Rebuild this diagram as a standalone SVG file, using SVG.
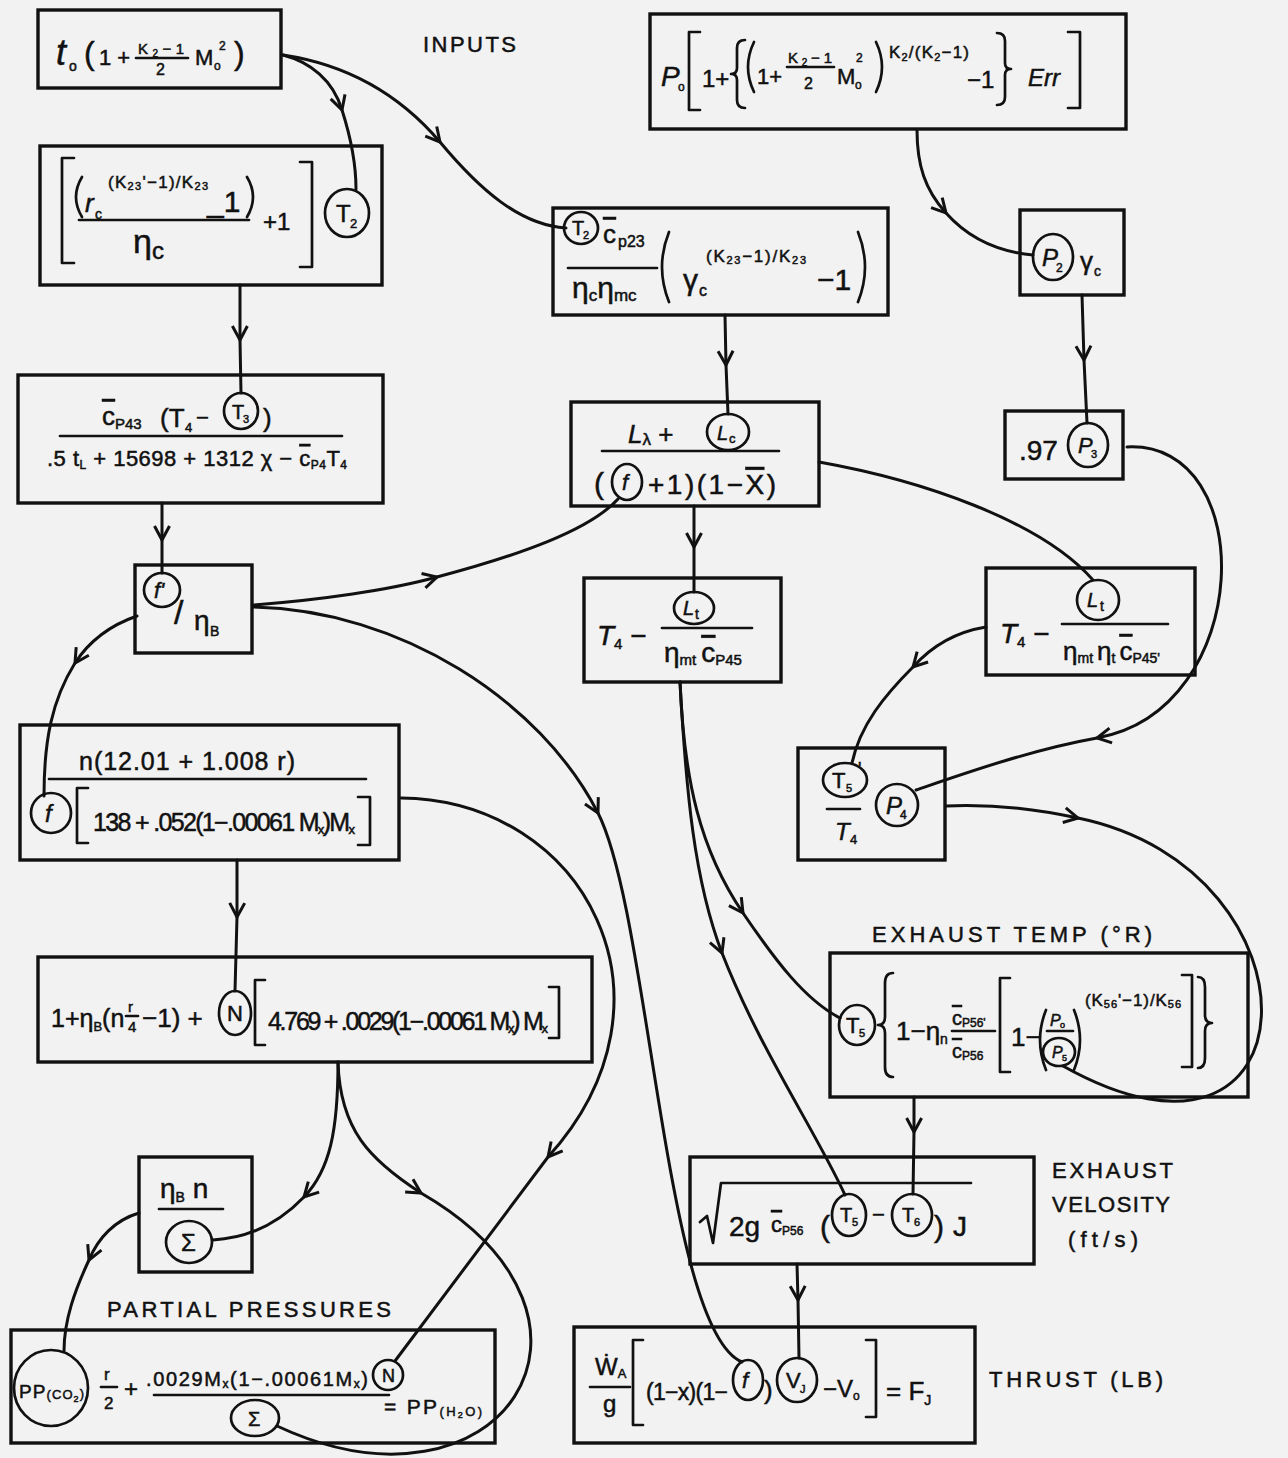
<svg xmlns="http://www.w3.org/2000/svg" width="1288" height="1458" viewBox="0 0 1288 1458">
<style>
.bx{fill:none;stroke:#111;stroke-width:3.4}
.cr{fill:none;stroke:#111;stroke-width:2.7}
.ln{fill:none;stroke:#111;stroke-width:2.7;stroke-linecap:round;stroke-linejoin:round}
.cn{fill:none;stroke:#111;stroke-width:3;marker-mid:url(#v);stroke-linecap:round}
.cn0{fill:none;stroke:#111;stroke-width:3;stroke-linecap:round}
text{font-family:"Liberation Sans","DejaVu Sans",sans-serif;fill:#111;stroke:#111;stroke-width:0.5}
.i{font-style:italic}
.ov{text-decoration:overline}
.lb{font-size:22px}
</style>
<defs>
<marker id="v" viewBox="-16 -10 18 20" markerWidth="18" markerHeight="20" refX="0" refY="0" orient="auto" markerUnits="userSpaceOnUse" overflow="visible">
<path d="M-14,-7.5 L0,0 L-14,7.5" fill="none" stroke="#111" stroke-width="3"/>
</marker>
</defs>
<rect x="0" y="0" width="1288" height="1458" fill="#f2f2f2"/>

<g id="connectors">
<path class="cn" d="M283,55 C310,62 333,80 342,110 C350,135 356,160 356,189"/>
<path class="cn" d="M283,55 C350,65 400,95 440,142 C480,190 520,225 566,228"/>
<path class="cn" d="M917,130 C917,165 925,190 946,213 C970,240 1000,252 1033,255"/>
<path class="cn" d="M240,285 L240,340 L241,393"/>
<path class="cn" d="M725,315 L726,365 L728,414"/>
<path class="cn" d="M1082,295 L1084,360 L1087,423"/>
<path class="cn" d="M162,503 L162,540 L162,573"/>
<path class="cn" d="M694,506 L694,547 L694,592"/>
<path class="cn" d="M253,605 C320,600 390,590 437,577 C520,555 590,530 618,499"/>
<path class="cn0" d="M819,462 C920,480 1040,520 1093,580"/>
<path class="cn" d="M1127,447 C1260,440 1255,710 1097,738 C1030,750 960,775 916,790"/>
<path class="cn" d="M986,627 C955,632 930,648 913,667 C885,695 860,725 852,763"/>
<path class="cn" d="M137,616 C108,626 88,643 75,663 C52,700 44,740 44,796"/>
<path class="cn" d="M253,607 C400,610 540,700 598,813 C650,915 665,1330 742,1362"/>
<path class="cn" d="M401,798 C585,800 690,1000 548,1157 L395,1361"/>
<path class="cn" d="M237,860 L237,917 L235,991"/>
<path class="cn" d="M338,1062 C338,1130 330,1170 304,1197 C280,1222 250,1238 213,1240"/>
<path class="cn" d="M338,1062 C340,1130 370,1160 421,1193 C640,1320 500,1530 277,1426"/>
<path class="cn" d="M139,1213 C115,1220 98,1238 89,1260 C75,1290 64,1320 64,1351"/>
<path class="cn" d="M680,682 C684,780 700,850 743,913 C775,960 805,1000 840,1018"/>
<path class="cn" d="M680,682 C686,790 694,880 722,953 C760,1050 815,1130 845,1195"/>
<path class="cn" d="M946,806 C1000,804 1040,810 1078,818 C1330,870 1320,1210 1063,1066"/>
<path class="cn" d="M914,1097 L914,1132 L913,1194"/>
<path class="cn" d="M797,1264 L798,1300 L799,1358"/>
</g>

<g id="n-t2in">
<rect class="bx" x="38" y="10" width="243" height="78"/>
<text class="i" x="56" y="65" font-size="36">t</text>
<text x="69" y="71" font-size="14">o</text>
<text x="84" y="64" font-size="32">(</text>
<text x="99" y="65" font-size="22">1 +</text>
<text x="138" y="54" font-size="15" textLength="46">K<tspan font-size="10" dy="3">2</tspan><tspan dy="-3">−1</tspan></text>
<line class="ln" x1="136" y1="58" x2="188" y2="58"/>
<text x="156" y="75" font-size="16">2</text>
<text x="195" y="65" font-size="22">M</text>
<text x="214" y="70" font-size="12">o</text>
<text x="219" y="50" font-size="12">2</text>
<text x="234" y="64" font-size="32">)</text>
</g>

<g id="lbl-inputs"><text class="lb" x="423" y="52" font-size="24" textLength="93">INPUTS</text></g>

<g id="n-p0">
<rect class="bx" x="650" y="14" width="476" height="115"/>
<text class="i" x="661" y="86" font-size="28">P</text>
<text x="678" y="91" font-size="12">o</text>
<path class="ln" d="M700,32 H689 V110 H700"/>
<text x="702" y="87" font-size="24">1+</text>
<path class="ln" d="M745,40 Q737,40 737,48 V68 Q737,74 731,74 Q737,74 737,80 V100 Q737,108 745,108"/>
<path class="ln" d="M754,42 Q742,67 754,92"/>
<text x="757" y="84" font-size="22">1+</text>
<text x="788" y="63" font-size="15" textLength="44">K<tspan font-size="10" dy="3">2</tspan><tspan dy="-3">−1</tspan></text>
<line class="ln" x1="787" y1="67" x2="834" y2="67"/>
<text x="804" y="89" font-size="16">2</text>
<text x="837" y="84" font-size="22">M</text>
<text x="855" y="89" font-size="12">o</text>
<text x="856" y="62" font-size="12">2</text>
<path class="ln" d="M876,42 Q888,67 876,92"/>
<text x="889" y="58" font-size="17" textLength="80">K<tspan font-size="11" dy="3">2</tspan><tspan dy="-3">/(K</tspan><tspan font-size="11" dy="3">2</tspan><tspan dy="-3">−1)</tspan></text>
<text x="967" y="88" font-size="24">−1</text>
<path class="ln" d="M997,33 Q1005,33 1005,41 V63 Q1005,69 1011,69 Q1005,69 1005,75 V97 Q1005,105 997,105"/>
<text class="i" x="1028" y="86" font-size="24">Err</text>
<path class="ln" d="M1068,32 H1080 V108 H1068"/>
</g>

<g id="n-t3">
<rect class="bx" x="40" y="146" width="342" height="139"/>
<path class="ln" d="M74,158 H62 V263 H74"/>
<path class="ln" d="M82,177 Q70,197 82,217"/>
<text class="i" x="85" y="212" font-size="26">r</text>
<text x="95" y="219" font-size="14">c</text>
<text x="108" y="188" font-size="17" textLength="100">(K<tspan font-size="11" dy="2">23</tspan><tspan dy="-2">'−1)/K</tspan><tspan font-size="11" dy="2">23</tspan></text>
<text x="207" y="212" font-size="30">_1</text>
<path class="ln" d="M247,177 Q259,197 247,217"/>
<line class="ln" x1="79" y1="220" x2="249" y2="220"/>
<text x="133" y="253" font-size="34">η</text>
<text x="152" y="259" font-size="24">c</text>
<text x="263" y="230" font-size="24">+1</text>
<path class="ln" d="M300,162 H312 V267 H300"/>
<ellipse class="cr" cx="347" cy="213" rx="22" ry="24"/>
<text x="336" y="222" font-size="24">T</text>
<text x="350" y="228" font-size="13">2</text>
</g>

<g id="n-lc">
<rect class="bx" x="553" y="208" width="335" height="107"/>
<ellipse class="cr" cx="581" cy="228" rx="17" ry="16"/>
<text x="572" y="235" font-size="20">T</text>
<text x="583" y="239" font-size="11">2</text>
<text x="603" y="243" font-size="26" class="ov">c</text>
<text x="618" y="247" font-size="16">p23</text>
<line class="ln" x1="568" y1="268" x2="657" y2="268"/>
<text x="572" y="298" font-size="30">η<tspan font-size="17" dy="3">c</tspan><tspan dy="-3">η</tspan><tspan font-size="17" dy="3">mc</tspan></text>
<path class="ln" d="M669,232 Q655,267 669,302"/>
<text x="683" y="290" font-size="30">γ</text>
<text x="699" y="296" font-size="16">c</text>
<text x="706" y="262" font-size="17" textLength="100">(K<tspan font-size="11" dy="2">23</tspan><tspan dy="-2">−1)/K</tspan><tspan font-size="11" dy="2">23</tspan></text>
<text x="817" y="290" font-size="30">−1</text>
<path class="ln" d="M858,232 Q872,267 858,302"/>
</g>

<g id="n-p2">
<rect class="bx" x="1020" y="210" width="104" height="85"/>
<ellipse class="cr" cx="1053" cy="257" rx="20" ry="23"/>
<text class="i" x="1042" y="266" font-size="24">P</text>
<text x="1056" y="272" font-size="12">2</text>
<text x="1080" y="270" font-size="26">γ</text>
<text x="1094" y="276" font-size="14">c</text>
</g>

<g id="n-f1">
<rect class="bx" x="18" y="375" width="365" height="128"/>
<text x="102" y="425" font-size="26"><tspan class="ov">c</tspan><tspan font-size="15" dy="4">P43</tspan></text>
<text x="160" y="427" font-size="26">(T</text>
<text x="185" y="432" font-size="13">4</text>
<text x="196" y="425" font-size="22">−</text>
<ellipse class="cr" cx="241" cy="411" rx="17" ry="18"/>
<text x="232" y="419" font-size="20">T</text>
<text x="243" y="423" font-size="11">3</text>
<text x="263" y="427" font-size="26">)</text>
<line class="ln" x1="60" y1="436" x2="342" y2="436"/>
<text x="47" y="466" font-size="22" textLength="300">.5 t<tspan font-size="12" dy="3">L</tspan><tspan dy="-3"> + 15698 + 1312 χ − </tspan><tspan class="ov">c</tspan><tspan font-size="12" dy="3">P4</tspan><tspan dy="-3">T</tspan><tspan font-size="12" dy="3">4</tspan></text>
</g>

<g id="n-p3">
<rect class="bx" x="1005" y="411" width="118" height="68"/>
<text x="1019" y="460" font-size="28">.97</text>
<ellipse class="cr" cx="1088" cy="445" rx="20" ry="22"/>
<text class="i" x="1078" y="453" font-size="22">P</text>
<text x="1091" y="458" font-size="11">3</text>
</g>

<g id="n-lt">
<rect class="bx" x="571" y="402" width="248" height="104"/>
<text x="628" y="443" font-size="26"><tspan class="i">L</tspan><tspan font-size="17" dy="2">λ</tspan><tspan dy="-2">  +</tspan></text>
<ellipse class="cr" cx="728" cy="432" rx="21" ry="18"/>
<text class="i" x="717" y="440" font-size="20">L</text>
<text x="729" y="443" font-size="13">c</text>
<line class="ln" x1="602" y1="451" x2="779" y2="451"/>
<text x="594" y="494" font-size="30">(</text>
<ellipse class="cr" cx="627" cy="482" rx="15" ry="18"/>
<text class="i" x="622" y="490" font-size="22">f</text>
<text x="648" y="494" font-size="28" textLength="128">+1)(1−<tspan class="ov">X</tspan>)</text>
</g>

<g id="n-fb">
<rect class="bx" x="135" y="565" width="117" height="88"/>
<ellipse class="cr" cx="162" cy="590" rx="18" ry="17"/>
<text class="i" x="154" y="598" font-size="22">f'</text>
<text x="174" y="624" font-size="34">/</text>
<text x="194" y="630" font-size="28">η</text>
<text x="210" y="636" font-size="14">B</text>
</g>

<g id="n-t5a">
<rect class="bx" x="584" y="578" width="197" height="104"/>
<text x="597" y="645" font-size="28"><tspan class="i">T</tspan><tspan font-size="15" dy="4">4</tspan><tspan dy="-4">  −</tspan></text>
<ellipse class="cr" cx="694" cy="608" rx="20" ry="16"/>
<text class="i" x="683" y="615" font-size="20">L</text>
<text x="695" y="619" font-size="14">t</text>
<line class="ln" x1="662" y1="628" x2="752" y2="628"/>
<text x="664" y="662" font-size="28">η<tspan font-size="15" dy="3">mt</tspan><tspan dy="-3" dx="5" class="ov">c</tspan><tspan font-size="15" dy="3">P45</tspan></text>
</g>

<g id="n-t5b">
<rect class="bx" x="986" y="568" width="209" height="107"/>
<text x="1000" y="643" font-size="28"><tspan class="i">T</tspan><tspan font-size="15" dy="4">4</tspan><tspan dy="-4"> −</tspan></text>
<ellipse class="cr" cx="1098" cy="600" rx="21" ry="20"/>
<text class="i" x="1087" y="607" font-size="20">L</text>
<text x="1100" y="611" font-size="14">t</text>
<line class="ln" x1="1062" y1="624" x2="1168" y2="624"/>
<text x="1063" y="660" font-size="26">η<tspan font-size="14" dy="3">mt</tspan><tspan dy="-3" dx="4">η</tspan><tspan font-size="14" dy="3">t</tspan><tspan dy="-3" dx="4" class="ov">c</tspan><tspan font-size="14" dy="3">P45'</tspan></text>
</g>

<g id="n-f">
<rect class="bx" x="20" y="725" width="379" height="135"/>
<text x="79" y="770" font-size="25" textLength="216">n(12.01 + 1.008 r)</text>
<line class="ln" x1="49" y1="779" x2="366" y2="779"/>
<ellipse class="cr" cx="51" cy="813" rx="20" ry="20"/>
<text class="i" x="45" y="822" font-size="24">f</text>
<path class="ln" d="M88,788 H77 V843 H88"/>
<text x="93" y="831" font-size="25" textLength="262">138 + .052(1−.00061 M<tspan font-size="13" dy="3">x</tspan><tspan dy="-3">)M</tspan><tspan font-size="13" dy="3">x</tspan></text>
<path class="ln" d="M358,797 H370 V845 H358"/>
</g>

<g id="n-sum">
<rect class="bx" x="38" y="957" width="554" height="105"/>
<text x="51" y="1027" font-size="25">1+η<tspan font-size="13" dy="4">B</tspan><tspan dy="-4">(n</tspan></text>
<text x="128" y="1012" font-size="15">r</text>
<line class="ln" x1="126" y1="1016" x2="138" y2="1016"/>
<text x="128" y="1032" font-size="15">4</text>
<text x="142" y="1027" font-size="26">−1) +</text>
<ellipse class="cr" cx="235" cy="1013" rx="16" ry="22"/>
<text x="227" y="1021" font-size="22">N</text>
<path class="ln" d="M265,980 H255 V1045 H265"/>
<text x="268" y="1030" font-size="25" textLength="280">4.769 + .0029(1−.00061 M<tspan font-size="13" dy="3">x</tspan><tspan dy="-3">) M</tspan><tspan font-size="13" dy="3">x</tspan></text>
<path class="ln" d="M549,987 H559 V1038 H549"/>
</g>

<g id="n-p4">
<rect class="bx" x="798" y="748" width="147" height="112"/>
<ellipse class="cr" cx="845" cy="780" rx="22" ry="17"/>
<text x="832" y="788" font-size="22">T</text>
<text x="846" y="792" font-size="11">5</text>
<text x="858" y="775" font-size="18">'</text>
<line class="ln" x1="827" y1="809" x2="860" y2="809"/>
<text class="i" x="835" y="840" font-size="24">T</text>
<text x="850" y="844" font-size="13">4</text>
<ellipse class="cr" cx="897" cy="805" rx="21" ry="21"/>
<text class="i" x="886" y="814" font-size="24">P</text>
<text x="900" y="819" font-size="12">4</text>
</g>

<g id="lbl-exhtemp"><text class="lb" x="872" y="942" textLength="280">EXHAUST TEMP (°R)</text></g>

<g id="n-t5">
<rect class="bx" x="830" y="953" width="418" height="144"/>
<ellipse class="cr" cx="857" cy="1025" rx="18" ry="20"/>
<text x="846" y="1033" font-size="22">T</text>
<text x="859" y="1037" font-size="11">5</text>
<path class="ln" d="M893,973 Q885,973 885,983 V1017 Q885,1025 878,1025 Q885,1025 885,1033 V1067 Q885,1077 893,1077"/>
<text x="896" y="1040" font-size="26">1−η<tspan font-size="14" dy="4">n</tspan></text>
<text x="952" y="1025" font-size="20"><tspan class="ov">c</tspan><tspan font-size="12" dy="2">P56'</tspan></text>
<line class="ln" x1="952" y1="1031" x2="995" y2="1031"/>
<text x="952" y="1058" font-size="20"><tspan class="ov">c</tspan><tspan font-size="12" dy="2">P56</tspan></text>
<path class="ln" d="M1010,978 H1000 V1072 H1010"/>
<text x="1011" y="1046" font-size="26">1−</text>
<path class="ln" d="M1046,1010 Q1034,1040 1046,1070"/>
<text class="i" x="1050" y="1026" font-size="16">P</text>
<text x="1060" y="1028" font-size="9">o</text>
<line class="ln" x1="1047" y1="1031" x2="1073" y2="1031"/>
<ellipse class="cr" cx="1059" cy="1052" rx="16" ry="14"/>
<text class="i" x="1052" y="1058" font-size="16">P</text>
<text x="1062" y="1061" font-size="9">5</text>
<path class="ln" d="M1074,1010 Q1086,1040 1074,1070"/>
<text x="1085" y="1006" font-size="17" textLength="96">(K<tspan font-size="11" dy="2">56</tspan><tspan dy="-2">'−1)/K</tspan><tspan font-size="11" dy="2">56</tspan></text>
<path class="ln" d="M1182,975 H1192 V1067 H1182"/>
<path class="ln" d="M1198,977 Q1205,977 1205,987 V1015 Q1205,1023 1212,1023 Q1205,1023 1205,1031 V1058 Q1205,1068 1198,1068"/>
</g>

<g id="n-vj">
<rect class="bx" x="690" y="1157" width="344" height="107"/>
<path class="ln" d="M700,1222 L707,1216 L713,1243 L721,1183 L971,1183"/>
<text x="729" y="1236" font-size="28">2g</text>
<text x="771" y="1232" font-size="22"><tspan class="ov">c</tspan><tspan font-size="12" dy="3">P56</tspan></text>
<text x="820" y="1237" font-size="30">(</text>
<ellipse class="cr" cx="849" cy="1215" rx="17" ry="21"/>
<text x="840" y="1222" font-size="20">T</text>
<text x="852" y="1226" font-size="11">5</text>
<text x="872" y="1222" font-size="22">−</text>
<ellipse class="cr" cx="912" cy="1215" rx="20" ry="21"/>
<text x="902" y="1222" font-size="20">T</text>
<text x="914" y="1226" font-size="11">6</text>
<text x="934" y="1237" font-size="30">)</text>
<text x="953" y="1236" font-size="28">J</text>
</g>

<g id="lbl-exhvel">
<text class="lb" x="1052" y="1178" font-size="20" textLength="121">EXHAUST</text>
<text class="lb" x="1052" y="1212" font-size="20" textLength="118">VELOSITY</text>
<text class="lb" x="1068" y="1247" font-size="20" textLength="70">(ft/s)</text>
</g>

<g id="n-fj">
<rect class="bx" x="574" y="1327" width="401" height="116"/>
<text x="595" y="1375" font-size="24">Ẇ<tspan font-size="13" dy="3">A</tspan></text>
<line class="ln" x1="590" y1="1387" x2="630" y2="1387"/>
<text x="603" y="1412" font-size="24">g</text>
<path class="ln" d="M643,1340 H633 V1425 H643"/>
<text x="646" y="1400" font-size="23" textLength="82">(1−x)(1−</text>
<ellipse class="cr" cx="748" cy="1380" rx="15" ry="20"/>
<text class="i" x="742" y="1388" font-size="22">f</text>
<text x="764" y="1399" font-size="26">)</text>
<ellipse class="cr" cx="797" cy="1380" rx="20" ry="22"/>
<text x="786" y="1388" font-size="22">V</text>
<text x="800" y="1393" font-size="11">J</text>
<text x="823" y="1397" font-size="24">−V<tspan font-size="12" dy="3">o</tspan></text>
<path class="ln" d="M866,1340 H876 V1417 H866"/>
<text x="886" y="1400" font-size="26">= F<tspan font-size="14" dy="5">J</tspan></text>
</g>

<g id="lbl-thrust"><text class="lb" x="989" y="1387" textLength="174">THRUST (LB)</text></g>

<g id="n-pco2">
<rect class="bx" x="139" y="1157" width="113" height="115"/>
<text x="160" y="1198" font-size="28">η<tspan font-size="14" dy="4">B</tspan><tspan dy="-4"> n</tspan></text>
<line class="ln" x1="159" y1="1209" x2="223" y2="1209"/>
<ellipse class="cr" cx="189" cy="1242" rx="23" ry="21"/>
<text x="181" y="1251" font-size="24">Σ</text>
</g>

<g id="lbl-pp"><text class="lb" x="107" y="1317" textLength="284">PARTIAL PRESSURES</text></g>

<g id="n-ph2o">
<rect class="bx" x="11" y="1330" width="484" height="113"/>
<ellipse class="cr" cx="51" cy="1388" rx="37" ry="38"/>
<text x="19" y="1398" font-size="19" textLength="65">PP<tspan font-size="13" dy="1">(CO</tspan><tspan font-size="9" dy="3">2</tspan><tspan font-size="13" dy="-4">)</tspan></text>
<text x="104" y="1380" font-size="17">r</text>
<line class="ln" x1="101" y1="1387" x2="117" y2="1387"/>
<text x="104" y="1409" font-size="17">2</text>
<text x="124" y="1397" font-size="24">+</text>
<text x="146" y="1386" font-size="20" textLength="222">.0029M<tspan font-size="12" dy="2">x</tspan><tspan dy="-2">(1−.00061M</tspan><tspan font-size="12" dy="2">x</tspan><tspan dy="-2">)</tspan></text>
<ellipse class="cr" cx="388" cy="1375" rx="15" ry="15"/>
<text x="382" y="1382" font-size="18">N</text>
<line class="ln" x1="154" y1="1395" x2="389" y2="1395"/>
<text x="384" y="1414" font-size="21" textLength="98">= PP<tspan font-size="13" dy="2">(H</tspan><tspan font-size="9" dy="2">2</tspan><tspan font-size="13" dy="-2">O)</tspan></text>
<ellipse class="cr" cx="255" cy="1418" rx="24" ry="18"/>
<text x="248" y="1426" font-size="20">Σ</text>
</g>
</svg>
